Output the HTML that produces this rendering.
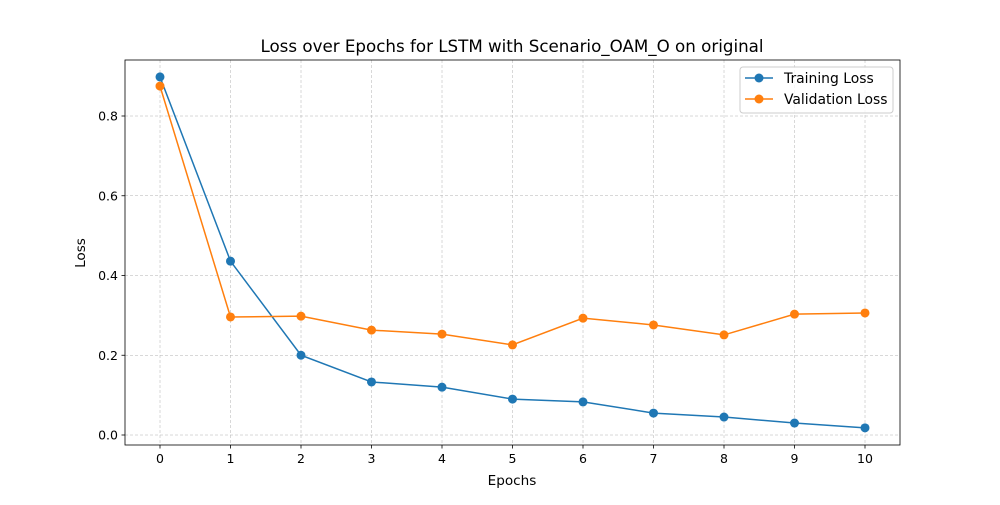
<!DOCTYPE html>
<html><head><meta charset="utf-8"><style>
body{margin:0;background:#fff}
svg text{font-family:"DejaVu Sans","Liberation Sans",sans-serif;fill:#000}
</style></head><body>
<svg id="chart" width="1000" height="500" xmlns="http://www.w3.org/2000/svg">
<rect width="1000" height="500" fill="#fff"/>
<text x="512" y="52" font-size="16.7" text-anchor="middle">Loss over Epochs for LSTM with Scenario_OAM_O on original</text>
<g id="grid"></g>
<g id="series"></g>
<rect x="125" y="60" width="775" height="385" fill="none" stroke="#000" stroke-width="0.8"/>
<g id="ticks"></g>
<text x="512" y="485" font-size="13.6" text-anchor="middle">Epochs</text>
<text x="85" y="253" font-size="13.6" text-anchor="middle" transform="rotate(-90 85 253)">Loss</text>
<g>
<rect x="740" y="67" width="153" height="46" rx="3" fill="#fff" fill-opacity="0.8" stroke="#ccc"/>
<g>
<line x1="745" y1="78" x2="773" y2="78" stroke="#1f77b4" stroke-width="1.5"/><circle cx="759" cy="78" r="4.5" fill="#1f77b4"/>
<text x="784" y="83" font-size="13.9">Training Loss</text></g>
<g>
<line x1="745" y1="99" x2="773" y2="99" stroke="#ff7f0e" stroke-width="1.5"/><circle cx="759" cy="99" r="4.5" fill="#ff7f0e"/>
<text x="784" y="104" font-size="13.9">Validation Loss</text></g>
</g>
</svg>
<script>
const epochs=[0,1,2,3,4,5,6,7,8,9,10];
const trainingLoss=[0.898,0.436,0.200,0.133,0.120,0.090,0.083,0.055,0.045,0.030,0.018];
const validationLoss=[0.875,0.296,0.298,0.263,0.253,0.226,0.293,0.276,0.251,0.303,0.306];
const yTicks=[0.0,0.2,0.4,0.6,0.8];
const yTickLabels=["0.0","0.2","0.4","0.6","0.8"];
const NS="http://www.w3.org/2000/svg";
const x=v=>160+v*70.5;
const y=v=>435-v*398.75;
function mk(t,a,p){const e=document.createElementNS(NS,t);for(const k in a)e.setAttribute(k,a[k]);p.appendChild(e);return e;}
const grid=document.getElementById('grid'),ticks=document.getElementById('ticks'),series=document.getElementById('series');
epochs.forEach(e=>{
 const g=mk('line',{x1:x(e),x2:x(e),y1:60,y2:445,stroke:'#b0b0b0','stroke-width':0.5,'stroke-dasharray':'3,2'},grid);
 
 
 const t=mk('line',{x1:x(e),x2:x(e),y1:445,y2:448.5,stroke:'#000','stroke-width':0.8},ticks);
 
 
 const l=mk('text',{x:x(e),y:463,'font-size':12.5,'text-anchor':'middle'},ticks);l.textContent=e;
 
 
});
yTicks.forEach((v,i)=>{
 const g=mk('line',{x1:125,x2:900,y1:y(v),y2:y(v),stroke:'#b0b0b0','stroke-width':0.5,'stroke-dasharray':'3,2'},grid);
 
 
 const t=mk('line',{x1:121.5,x2:125,y1:y(v),y2:y(v),stroke:'#000','stroke-width':0.8},ticks);
 
 
 const l=mk('text',{x:118,y:y(v)+4.5,'font-size':12.5,'text-anchor':'end'},ticks);l.textContent=yTickLabels[i];
 
 
});
function draw(vals,color,name){
 const p=mk('polyline',{points:vals.map((v,i)=>x(epochs[i])+','+y(v)).join(' '),fill:'none',stroke:color,'stroke-width':1.5},series);
 
 
 vals.forEach((v,i)=>{const c=mk('circle',{cx:x(epochs[i]),cy:y(v),r:4.5,fill:color},series);
  
  });
}
draw(trainingLoss,'#1f77b4','training-loss');
draw(validationLoss,'#ff7f0e','validation-loss');
</script>
</body></html>
